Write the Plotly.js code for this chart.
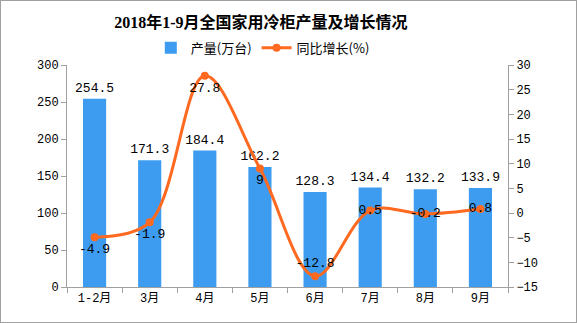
<!DOCTYPE html>
<html><head><meta charset="utf-8">
<script src="https://cdn.plot.ly/plotly-3.0.1.min.js"></script>
<style>html,body{margin:0;padding:0;background:#fff}#c{width:575px;height:321px;border:1px solid #a0a0a0}</style>
</head><body><div id="c"></div>
<script>
var months = ['1-2月','3月','4月','5月','6月','7月','8月','9月'];
var output = [254.5,171.3,184.4,162.2,128.3,134.4,132.2,133.9];
var growth = [-4.9,-1.9,27.8,9,-12.8,0.5,-0.2,0.8];
var growthLabelPos = ['bottom center','bottom center','bottom center','bottom center','top center','middle center','middle center','middle center'];
var mono = 'Liberation Mono, Noto Sans CJK SC, monospace';
var traces = [
 {type:'bar', name:'产量(万台)', x:months, y:output, text:output.map(function(v){return v.toFixed(1);}),
  textposition:'outside', constraintext:'none', textfont:{family:mono,size:13,color:'#000'}, marker:{color:'#3D9CF0'}, cliponaxis:false, hoverinfo:'none'},
 {type:'scatter', mode:'lines+markers+text', name:'同比增长(%)', x:months, y:growth, yaxis:'y2',
  text:growth.map(String), textposition:growthLabelPos, textfont:{family:mono,size:13,color:'#000'},
  line:{color:'#FF6A20',width:3,shape:'spline',smoothing:1}, marker:{color:'#FF6A20',size:8}, cliponaxis:false, hoverinfo:'none'}
];
var axisFont = {family:mono,size:12,color:'#000'};
var layout = {
 width:575, height:321, margin:{l:66,r:68,t:64,b:35},
 paper_bgcolor:'#fff', plot_bgcolor:'#fff', showlegend:true, bargap:0.58,
 title:{text:'<b>2018年1-9月全国家用冷柜产量及增长情况</b>', x:0.452, xanchor:'center', y:0.932, yanchor:'middle',
  font:{family:'Liberation Serif, Noto Sans CJK SC, serif', size:16, color:'#000'}},
 legend:{orientation:'h', x:0.444, xanchor:'center', y:1.077, yanchor:'middle', font:{family:'Noto Sans CJK SC, sans-serif', size:13, color:'#000'}, itemwidth:30, tracegroupgap:0},
 xaxis:{type:'category', showline:true, linecolor:'#a0a0a0', linewidth:1, ticks:'outside', tickson:'boundaries', ticklen:5, tickcolor:'#a0a0a0', showgrid:false, tickfont:axisFont, fixedrange:true},
 yaxis:{range:[0,300], dtick:50, showline:true, linecolor:'#a0a0a0', ticks:'outside', ticklen:5, tickcolor:'#a0a0a0', showgrid:false, zeroline:false, tickfont:axisFont},
 yaxis2:{overlaying:'y', side:'right', range:[-15,30], dtick:5, showline:true, linecolor:'#a0a0a0', ticks:'outside', ticklen:5, tickcolor:'#a0a0a0', showgrid:false, zeroline:false, tickfont:axisFont}
};
Plotly.newPlot('c', traces, layout, {displayModeBar:false, staticPlot:true});
</script></body></html>
